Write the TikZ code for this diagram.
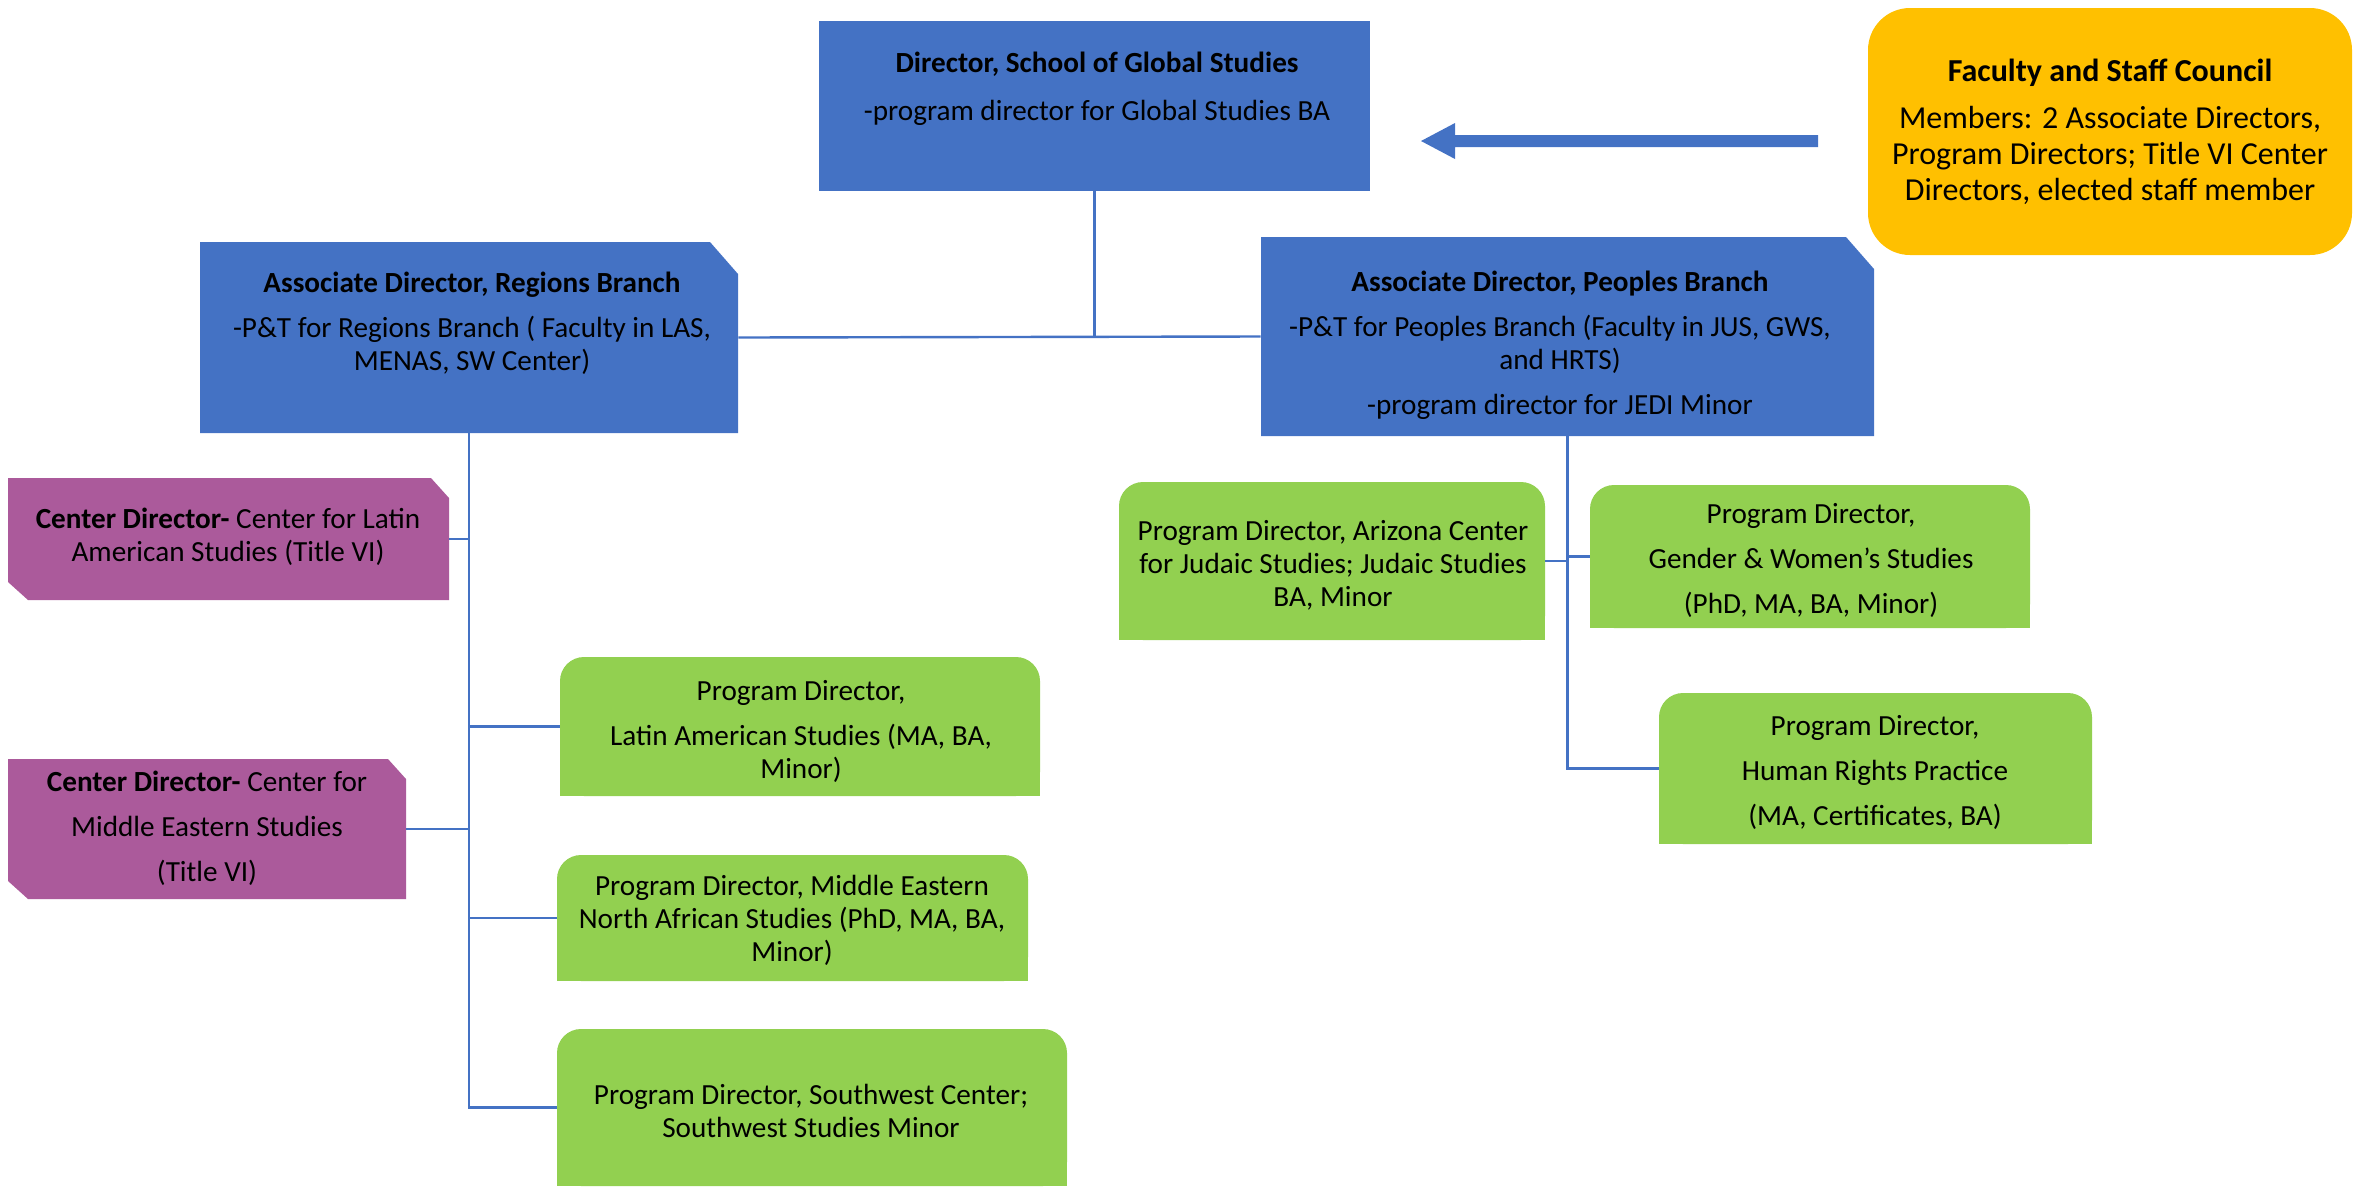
\documentclass[tikz,border=0pt]{standalone}
\usepackage{fontspec}
\setmainfont{Carlito}
\definecolor{cblue}{HTML}{4472C4}
\definecolor{cgreen}{HTML}{92D050}
\definecolor{cpurple}{HTML}{AB5A9B}
\definecolor{cyellow}{HTML}{FFC000}
\tikzset{
  sz/.style 2 args={minimum width=#1*0.5pt, minimum height=#2*0.5pt, inner sep=0pt, draw=none},
  plainblue/.style={fill=cblue},
  snipblue/.style={path picture={\fill[cblue] (path picture bounding box.south west) -- (path picture bounding box.north west) -- ([xshift=-14pt]path picture bounding box.north east) -- ([yshift=-16pt]path picture bounding box.north east) -- (path picture bounding box.south east) -- cycle;}},
  snippurple/.style={path picture={\fill[cpurple] ([yshift=9pt]path picture bounding box.south west) -- (path picture bounding box.north west) -- ([xshift=-9pt]path picture bounding box.north east) -- ([yshift=-10pt]path picture bounding box.north east) -- (path picture bounding box.south east) -- ([xshift=10pt]path picture bounding box.south west) -- cycle;}},
  greenbox/.style={path picture={\fill[cgreen, rounded corners=12pt] (path picture bounding box.south west) rectangle (path picture bounding box.north east); \fill[cgreen] (path picture bounding box.south west) rectangle ([yshift=-14pt]path picture bounding box.north east);}},
  yellowbox/.style={fill=cyellow, rounded corners=21pt},
  txt/.style={align=center, inner sep=0pt, font=\fontsize{14.6}{16.5}\selectfont},
  bigtxt/.style={align=center, inner sep=0pt, font=\fontsize{16}{18}\selectfont},
  conn/.style={draw=cblue, line width=1.2pt},
}
\begin{document}
\begin{tikzpicture}[x=0.5pt, y=-0.5pt]
\useasboundingbox (0,0) rectangle (2356,1190);

% boxes
\node[sz={551}{170}, plainblue] (dir) at (1094.5,106) {};
\node[sz={484}{247}, yellowbox] (fac) at (2110,131.5) {};
\node[sz={538}{191}, snipblue] (reg) at (469,337.5) {};
\node[sz={613}{199}, snipblue] (peo) at (1567.5,336.5) {};
\node[sz={441}{122}, snippurple] (cla) at (228.5,539) {};
\node[sz={398}{140}, snippurple] (cme) at (207,829) {};
\node[sz={480}{139}, greenbox] (las) at (800,726.5) {};
\node[sz={471}{126}, greenbox] (men) at (792.5,918) {};
\node[sz={510}{157}, greenbox] (sw) at (812,1107.5) {};
\node[sz={426}{158}, greenbox] (jud) at (1332,561) {};
\node[sz={440}{143}, greenbox] (gws) at (1810,556.5) {};
\node[sz={433}{151}, greenbox] (hrp) at (1875.5,768.5) {};

% texts
\node[txt] (dirT) at (1097,89) {\textbf{Director, School of Global Studies}\\[7.5pt]-program director for Global Studies BA};
\node[bigtxt] (facT) at (2110,131.5) {\textbf{Faculty and Staff Council}\\[5.5pt]Members: 2 Associate Directors,\\Program Directors; Title VI Center\\Directors, elected staff member};
\node[txt] (regT) at (472,323) {\textbf{Associate Director, Regions Branch}\\[6pt]-P\&T for Regions Branch ( Faculty in LAS,\\MENAS, SW Center)};
\node[txt] (peoT) at (1560,345) {\textbf{Associate Director, Peoples Branch}\\[6pt]-P\&T for Peoples Branch (Faculty in JUS, GWS,\\and HRTS)\\[6pt]-program director for JEDI Minor};
\node[txt] (claT) at (228,537) {\textbf{Center Director-} Center for Latin\\American Studies (Title VI)};
\node[txt] (cmeT) at (207,828) {\textbf{Center Director-} Center for\\[6pt]Middle Eastern Studies\\[6pt](Title VI)};
\node[txt] (lasT) at (801,731) {Program Director,\\[6pt]Latin American Studies (MA, BA,\\Minor)};
\node[txt] (menT) at (792,920) {Program Director, Middle Eastern\\North African Studies (PhD, MA, BA,\\Minor)};
\node[txt] (swT) at (811,1111) {Program Director, Southwest Center;\\Southwest Studies Minor};
\node[txt] (judT) at (1333,565) {Program Director, Arizona Center\\for Judaic Studies; Judaic Studies\\BA, Minor};
\node[txt] (gwsT) at (1811,560) {Program Director,\\[6pt]Gender \& Women’s Studies\\[6pt](PhD, MA, BA, Minor)};
\node[txt] (hrpT) at (1875,772) {Program Director,\\[6pt]Human Rights Practice\\[6pt](MA, Certificates, BA)};

% block arrow from council to director
\fill[cblue] (1818,135) -- (1455,135) -- (1455,123) -- (1421,141) -- (1455,159) -- (1455,147) -- (1818,147) -- cycle;

% connectors
\draw[conn] (dir.south) -- (dir.south |- reg.east);
\draw[conn] (reg.east) -- (peo.west);
\draw[conn] (reg.south) |- (sw.west);
\draw[conn] (cla.east) -- (cla.east -| reg.south);
\draw[conn] (reg.south |- las.west) -- (las.west);
\draw[conn] (cme.east) -- (cme.east -| reg.south);
\draw[conn] (reg.south |- men.west) -- (men.west);
\draw[conn] (peo.south) |- (hrp.west);
\draw[conn] (jud.east) -- (jud.east -| peo.south);
\draw[conn] (peo.south |- gws.west) -- (gws.west);
\end{tikzpicture}
\end{document}
